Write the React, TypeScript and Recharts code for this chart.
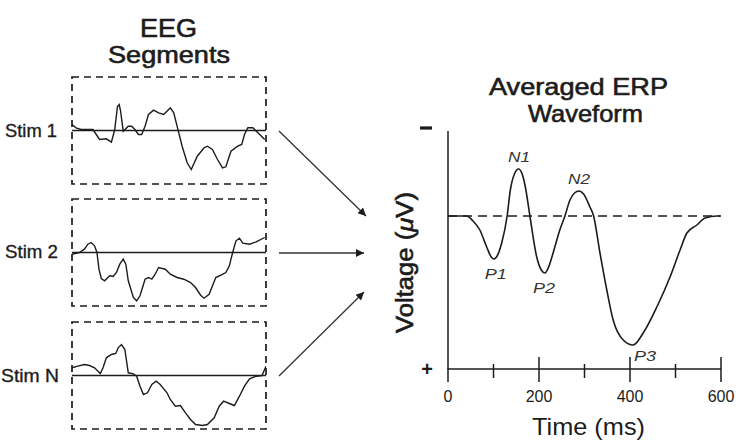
import {
  Line,
  LineChart,
  XAxis,
  YAxis,
  ReferenceLine,
  ReferenceArea,
  ReferenceDot,
} from "recharts";

const FONT = '"Liberation Sans", Arial, Helvetica, sans-serif';
const INK = "#1c1c1c";

// single-trial EEG segments: [sample position, amplitude] (positive = up)
const stim1 = [
  [0, 6], [4, 2.7], [9, 1], [20.7, 1], [27.3, -9], [34, -8.3], [39, -11.7],
  [42.3, 1], [45, 24], [46.7, 26], [48, 20], [50.7, -0.7], [55.7, 4.3],
  [59, 4.3], [62.3, 1], [65.7, -4], [69, -4], [72.3, 4.3], [75.7, 16],
  [80.7, 20.3], [85.7, 17.7], [90.7, 16], [94, 19.3], [97.3, 22.7],
  [100.7, 17.7], [104, 4.3], [109, -15.7], [114, -32.3], [118, -39],
  [124, -25.7], [130.7, -17.3], [134, -15.7], [139, -19], [144, -29],
  [149, -37.3], [152.3, -36.3], [157.3, -20.7], [164, -15.7], [168, -14],
  [170.7, -4], [174, 2.7], [179, 2.7], [184, -2.3], [190.7, -9],
];

const stim2 = [
  [0, -1.7], [7.3, 0], [12.3, 3.3], [15.7, 8.3], [19, 10], [22.3, 6.7],
  [24.7, 0], [26.7, -16.7], [29, -26], [32.3, -28.3], [37.3, -23.3],
  [40.7, -24], [44, -20], [47.3, -11.7], [50.7, -6.7], [53.3, -11.7],
  [55.7, -28.3], [60.7, -45], [64, -48.3], [67.3, -43.3], [72.3, -26.7],
  [75.7, -25], [79, -26.7], [82.3, -21.7], [85.7, -15], [92.3, -16.7],
  [97.3, -21.7], [104, -25], [110.7, -26.7], [117.3, -30], [122.3, -35],
  [127.3, -42.7], [130.7, -45.7], [135.7, -41.7], [142.3, -25],
  [147.3, -22.7], [152.3, -20], [155.7, -13.3], [159, 0], [162.3, 11.7],
  [165.7, 14.3], [169, 9.3], [175.7, 8.3], [182.3, 10.7], [190.7, 15],
];

const stimN = [
  [0, 7.7], [5.7, 9.3], [12.3, 11], [17.3, 10], [22.3, 7.7], [28, 2],
  [30.7, 7.7], [34, 17.7], [39, 21], [43.3, 22], [45.7, 27.7], [49, 31],
  [52.3, 26], [55.7, 2.7], [60.7, 1.7], [64, -0.7], [67.3, -10.7],
  [70.7, -19], [74.7, -17.3], [79, -9], [83.3, -5.7], [87.3, -9],
  [94, -17.3], [97.3, -24], [102.3, -30.7], [107.3, -30], [112.3, -37.3],
  [117.3, -44], [122.3, -49], [129, -50], [134, -49], [140.7, -42.3],
  [145.7, -30.7], [150, -25.7], [155.7, -28], [160.7, -30], [165.7, -20.7],
  [170.7, -10.7], [175.7, -3.3], [182.3, -0.7], [188, 0], [192, 9.3],
];

// averaged ERP waveform (voltage plotted negative-up)
const erpTime = [
  0, 20, 41, 55, 70, 85, 95, 101, 108, 118, 130, 137, 146, 155, 163, 170,
  180, 195, 205, 213, 222, 231, 245, 257, 268, 278, 288, 298, 312, 320,
  334, 349, 363, 385, 407, 429, 459, 488, 510, 525, 547, 565, 591, 598,
];
const erpVolt = [
  0, 0, 0, 0.5, 1.4, 3.1, 4.1, 4.3, 4.0, 2.7, 0, -2.6, -4.2, -4.7, -4.2,
  -2.9, 0, 4.1, 5.4, 5.7, 5.0, 3.7, 1.5, 0, -1.6, -2.3, -2.5, -2.2, -0.9,
  0, 3.7, 7.4, 10.4, 12.4, 12.9, 11.7, 9.1, 6.1, 3.4, 1.7, 0.9, 0.2, 0, 0,
];

const timeTicks = [0, 100, 200, 300, 400, 500, 600];
const voltTicks = [-8.5, 15.3];

const peaks = [
  { name: "N1", ms: 156, v: -5.9 },
  { name: "N2", ms: 288, v: -3.75 },
  { name: "P1", ms: 105, v: 5.8 },
  { name: "P2", ms: 211, v: 7.15 },
  { name: "P3", ms: 433, v: 14.0 },
];

const erpData = erpTime.map((t, i) => ({ t, v: erpVolt[i] }));

// heavier text, like the scanned figure
const heavy = { stroke: INK, strokeWidth: 0.6 };

function Segment({ points, top }: { points: number[][]; top: number }) {
  const data = points.map(([t, v]) => ({ t, v }));
  return (
    <div style={{ position: "absolute", left: 70, top }}>
      <LineChart
        width={198}
        height={111}
        data={data}
        margin={{ top: 2, right: 2, bottom: 2, left: 2 }}
      >
        <XAxis dataKey="t" type="number" domain={[0, 192]} hide allowDataOverflow />
        <YAxis type="number" domain={[-53.5, 53.5]} hide allowDataOverflow />
        <ReferenceArea
          x1={0}
          x2={192}
          y1={-53.5}
          y2={53.5}
          fill="none"
          fillOpacity={0}
          stroke={INK}
          strokeWidth={1.7}
          strokeDasharray="7 5"
        />
        <ReferenceLine y={0} stroke={INK} strokeWidth={1.6} />
        <Line
          dataKey="v"
          type="linear"
          stroke={INK}
          strokeWidth={1.4}
          dot={false}
          isAnimationActive={false}
        />
      </LineChart>
    </div>
  );
}

function TimeTick(props: any) {
  const { x, y, payload } = props;
  const val = payload.value;
  const major = val % 200 === 0;
  const up = val === 0 ? 1 : major ? 12 : 5;
  const down = major ? 13 : 9;
  return (
    <g>
      <line x1={x} x2={x} y1={y - up} y2={y + down} stroke={INK} strokeWidth={1.5} />
      {major && (
        <text x={x} y={y + 33} textAnchor="middle" fontSize={16} fill={INK} fontFamily={FONT}>
          {val}
        </text>
      )}
    </g>
  );
}

function VoltTick(props: any) {
  const { x, y, payload } = props;
  const neg = payload.value < 0;
  if (neg) {
    return (
      <g>
        <line x1={x - 28} x2={x - 16} y1={y - 3} y2={y - 3} stroke={INK} strokeWidth={3.2} />
        <text x={x - 22} y={y - 3} fontSize={1} fill="none">−</text>
      </g>
    );
  }
  return (
    <text
      x={x - 21}
      y={y + 7}
      textAnchor="middle"
      fontSize={20}
      fontWeight="bold"
      fill={INK}
      fontFamily={FONT}
    >
      +
    </text>
  );
}

export default function App() {
  return (
    <div
      style={{
        position: "absolute",
        left: 0,
        top: 0,
        width: 737,
        height: 440,
        background: "#fff",
        fontFamily: FONT,
      }}
    >
      <Segment points={stim1} top={75} />
      <Segment points={stim2} top={197} />
      <Segment points={stimN} top={320} />

      <div style={{ position: "absolute", left: 380, top: 110 }}>
        <LineChart
          width={357}
          height={330}
          data={erpData}
          margin={{ top: 21, right: 16, bottom: 41, left: 28 }}
        >
          <XAxis
            dataKey="t"
            type="number"
            domain={[0, 600]}
            ticks={timeTicks}
            interval={0}
            tick={(p: any) => <TimeTick {...p} />}
            tickLine={false}
            tickSize={0}
            tickMargin={0}
            height={30}
            axisLine={{ stroke: INK, strokeWidth: 1.5 }}
          />
          <YAxis
            type="number"
            domain={[-8.5, 15.3]}
            reversed
            ticks={voltTicks}
            interval={0}
            tick={(p: any) => <VoltTick {...p} />}
            tickLine={false}
            tickSize={0}
            tickMargin={0}
            width={40}
            axisLine={{ stroke: INK, strokeWidth: 1.5 }}
          />
          <ReferenceLine y={0} stroke={INK} strokeWidth={1.5} strokeDasharray="9 6" />
          <Line
            dataKey="v"
            type="monotone"
            stroke={INK}
            strokeWidth={1.6}
            dot={false}
            isAnimationActive={false}
          />
          {peaks.map((p) => (
            <ReferenceDot
              key={p.name}
              x={p.ms}
              y={p.v}
              r={0}
              shape={(s: any) => (
                <text
                  x={s.cx}
                  y={s.cy}
                  textAnchor="middle"
                  dominantBaseline="central"
                  fontSize={14}
                  fontStyle="italic"
                  fill="#333"
                  fontFamily={FONT}
                  textLength={22}
                  lengthAdjust="spacingAndGlyphs"
                >
                  {p.name}
                </text>
              )}
            />
          ))}
        </LineChart>
      </div>

      <svg
        width={737}
        height={440}
        style={{ position: "absolute", left: 0, top: 0, pointerEvents: "none" }}
        fontFamily={FONT}
        fill={INK}
      >
        <defs>
          <marker
            id="head"
            viewBox="0 0 10 10"
            refX="10"
            refY="5"
            markerWidth="12"
            markerHeight="8"
            markerUnits="userSpaceOnUse"
            orient="auto"
          >
            <path d="M0,0 L10,5 L0,10 z" fill={INK} />
          </marker>
        </defs>

        <g {...heavy}>
          <text x={140} y={37} fontSize={25} textLength={57} lengthAdjust="spacingAndGlyphs">EEG</text>
          <text x={108} y={63} fontSize={23} textLength={122} lengthAdjust="spacingAndGlyphs">Segments</text>
          <text x={489} y={95} fontSize={24} textLength={179} lengthAdjust="spacingAndGlyphs">Averaged ERP</text>
          <text x={528} y={122} fontSize={24} textLength={115} lengthAdjust="spacingAndGlyphs">Waveform</text>
          <text
            transform="translate(413,333) rotate(-90)"
            fontSize={23}
            textLength={141}
            lengthAdjust="spacingAndGlyphs"
          >
            Voltage (<tspan fontStyle="italic">μ</tspan>V)
          </text>
        </g>

        <g stroke={INK} strokeWidth={0.35}>
          <text x={5} y={137} fontSize={19} textLength={52} lengthAdjust="spacingAndGlyphs">Stim 1</text>
          <text x={5} y={258} fontSize={19} textLength={53} lengthAdjust="spacingAndGlyphs">Stim 2</text>
          <text x={1} y={382} fontSize={19} textLength={58} lengthAdjust="spacingAndGlyphs">Stim N</text>
        </g>

        <line x1={279} y1={131} x2={366} y2={216} stroke="#333" strokeWidth={1.3} markerEnd="url(#head)" />
        <line x1={279} y1={253} x2={364} y2={253} stroke="#333" strokeWidth={1.3} markerEnd="url(#head)" />
        <line x1={279} y1={376} x2={364} y2={292} stroke="#333" strokeWidth={1.3} markerEnd="url(#head)" />

        <text x={532} y={435} fontSize={24} textLength={113} lengthAdjust="spacingAndGlyphs">Time (ms)</text>
      </svg>
    </div>
  );
}
